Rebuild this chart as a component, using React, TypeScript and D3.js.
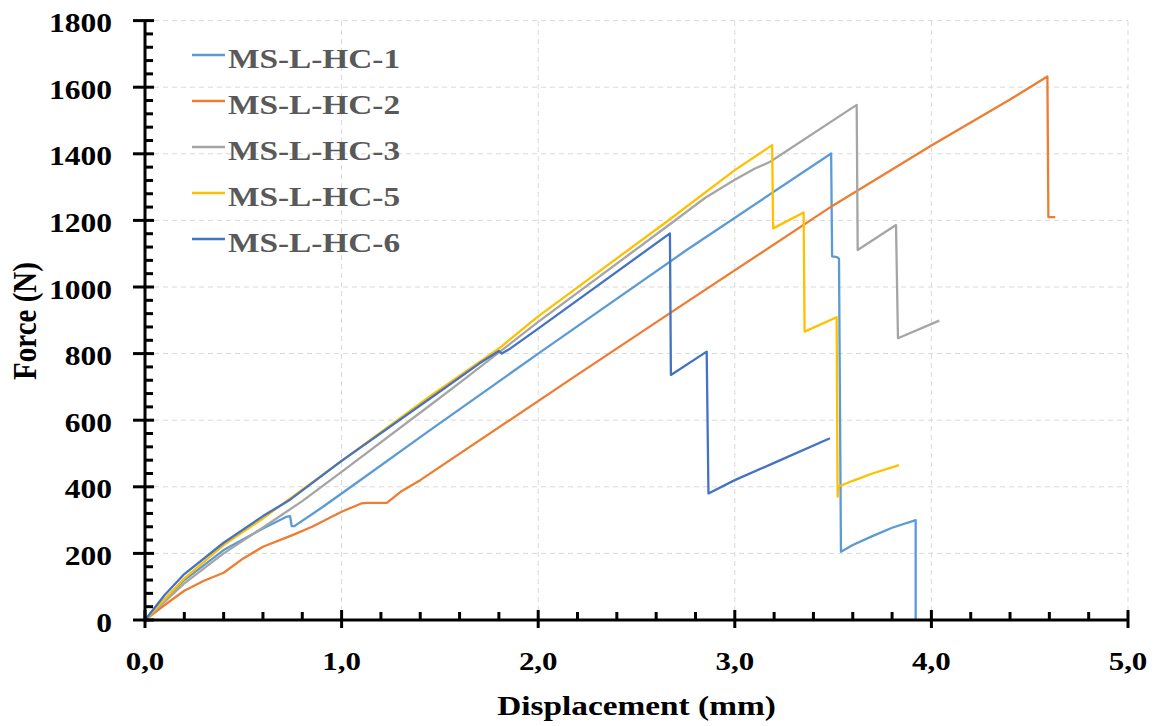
import React from "react";
import * as d3 from "d3";

const seriesNames = ["MS-L-HC-1", "MS-L-HC-2", "MS-L-HC-3", "MS-L-HC-5", "MS-L-HC-6"];
const seriesColors = ["#5B9BD5", "#ED7D31", "#A5A5A5", "#FFC000", "#4472C4"];

const hc1: [number, number][] = [
  [0, 0], [0.1, 62], [0.2, 120], [0.4, 210], [0.6, 275], [0.72, 310], [0.738, 312], [0.746, 282],
  [0.76, 282], [0.9, 338], [1.1, 422], [1.45, 570], [2.0, 800], [2.755, 1111], [3.49, 1401],
  [3.495, 1092], [3.52, 1090], [3.53, 1085], [3.54, 205], [3.6, 225], [3.7, 252], [3.8, 277],
  [3.92, 300], [3.92, 0],
];
const hc2: [number, number][] = [
  [0, 0], [0.1, 45], [0.2, 88], [0.3, 118], [0.4, 142], [0.5, 185], [0.6, 220], [0.75, 255],
  [0.85, 280], [1.0, 325], [1.1, 350], [1.13, 352], [1.23, 352], [1.3, 385], [1.4, 420],
  [2.16, 721], [2.72, 941], [3.5, 1245], [4.0, 1425], [4.4, 1563], [4.59, 1632], [4.595, 1210],
  [4.63, 1210],
];
const hc3: [number, number][] = [
  [0, 0], [0.2, 110], [0.4, 200], [0.6, 278], [0.8, 357], [1.0, 445], [1.45, 645], [1.62, 721],
  [2.0, 895], [2.653, 1181], [2.85, 1268], [3.0, 1322], [3.1, 1355], [3.18, 1376], [3.62, 1547],
  [3.625, 1111], [3.82, 1186], [3.83, 846], [4.04, 899],
];
const hc5: [number, number][] = [
  [0, 0], [0.2, 125], [0.4, 225], [0.6, 305], [1.0, 478], [1.45, 672], [1.806, 818], [2.0, 912],
  [2.653, 1196], [3.0, 1351], [3.19, 1426], [3.195, 1176], [3.35, 1224], [3.355, 866],
  [3.518, 909], [3.523, 370], [3.525, 400], [3.6, 418], [3.7, 440], [3.835, 465],
];
const hc6: [number, number][] = [
  [0, 0], [0.1, 75], [0.2, 138], [0.4, 232], [0.6, 312], [0.74, 362], [1.0, 478], [1.45, 665],
  [1.7, 770], [1.8, 808], [1.815, 800], [1.85, 812], [2.0, 875], [2.67, 1161], [2.675, 736],
  [2.857, 806], [2.866, 380], [3.0, 420], [3.2, 472], [3.484, 546],
];
const seriesData = [hc1, hc2, hc3, hc5, hc6];

const xTickValues = [0, 1, 2, 3, 4, 5];
const xTickLabels = ["0,0", "1,0", "2,0", "3,0", "4,0", "5,0"];
const yTickValues = [0, 200, 400, 600, 800, 1000, 1200, 1400, 1600, 1800];
const xTitle = "Displacement (mm)";
const yTitle = "Force (N)";

const FONT = "'Liberation Serif', 'Times New Roman', serif";
const SX = 1.19;

export default function App() {
  const x = d3.scaleLinear().domain([0, 5]).range([145, 1128]);
  const y = d3.scaleLinear().domain([0, 1800]).range([620, 20.6]);
  const line = d3.line<[number, number]>().x((d) => x(d[0])).y((d) => y(d[1]));
  const xMinor = d3.range(0, 5.0001, 0.2).filter((v) => Math.abs(v - Math.round(v)) > 1e-6);
  const yMinor = d3.range(0, 1800.001, 40).filter((v) => v % 200 !== 0);

  return (
    <svg width={1157} height={726} style={{ position: "absolute", left: 0, top: 0, background: "#fff" }}>
      {yTickValues.filter((v) => v > 0).map((v) => (
        <line key={"gy" + v} x1={x(0)} x2={x(5)} y1={y(v)} y2={y(v)} stroke="#d9d9d9" strokeWidth={1} strokeDasharray="5,4" />
      ))}
      {xTickValues.filter((v) => v > 0).map((v) => (
        <line key={"gx" + v} x1={x(v)} x2={x(v)} y1={y(0)} y2={y(1800)} stroke="#d9d9d9" strokeWidth={1} strokeDasharray="5,4" />
      ))}
      {seriesData.map((d, i) => (
        <path key={seriesNames[i]} d={line(d) || ""} fill="none" stroke={seriesColors[i]} strokeWidth={2.3} strokeLinejoin="round" />
      ))}
      <line x1={x(0)} x2={x(5)} y1={y(0)} y2={y(0)} stroke="#000" strokeWidth={3} />
      <line x1={x(0)} x2={x(0)} y1={y(0) + 1.5} y2={y(1800)} stroke="#000" strokeWidth={3} />
      {xTickValues.map((v) => (
        <line key={"xt" + v} x1={x(v)} x2={x(v)} y1={610} y2={628} stroke="#000" strokeWidth={3} />
      ))}
      {xMinor.map((v) => (
        <line key={"xm" + v} x1={x(v)} x2={x(v)} y1={612} y2={620} stroke="#000" strokeWidth={3} />
      ))}
      {yTickValues.map((v) => (
        <line key={"yt" + v} x1={133} x2={154} y1={y(v)} y2={y(v)} stroke="#000" strokeWidth={3} />
      ))}
      {yMinor.map((v) => (
        <line key={"ym" + v} x1={145} x2={153} y1={y(v)} y2={y(v)} stroke="#000" strokeWidth={3} />
      ))}
      {xTickValues.map((v, i) => (
        <text key={"xl" + v} transform={`translate(${x(v)},670) scale(${SX},1)`} textAnchor="middle"
          fontFamily={FONT} fontWeight="bold" fontSize={26} fill="#000">{xTickLabels[i]}</text>
      ))}
      {yTickValues.map((v) => (
        <text key={"yl" + v} transform={`translate(112,${y(v) + 11.5}) scale(${SX},1)`} textAnchor="end"
          fontFamily={FONT} fontWeight="bold" fontSize={26.5} fill="#000">{String(v)}</text>
      ))}
      <text transform={`translate(636.5,715) scale(${SX},1)`} textAnchor="middle" fontFamily={FONT}
        fontWeight="bold" fontSize={28} fill="#000">{xTitle}</text>
      <text transform={`translate(36,321) scale(${SX},1) rotate(-90)`} textAnchor="middle" fontFamily={FONT}
        fontWeight="bold" fontSize={29} fill="#000">{yTitle}</text>
      {seriesNames.map((n, i) => {
        const cy = 59 + i * 46;
        return (
          <g key={"lg" + n}>
            <line x1={192} x2={225} y1={cy - 4} y2={cy - 4} stroke={seriesColors[i]} strokeWidth={2.3} />
            <text transform={`translate(228,${cy + 9}) scale(${SX},1)`} fontFamily={FONT} fontWeight="bold"
              fontSize={28} fill="#595959">{n}</text>
          </g>
        );
      })}
    </svg>
  );
}
